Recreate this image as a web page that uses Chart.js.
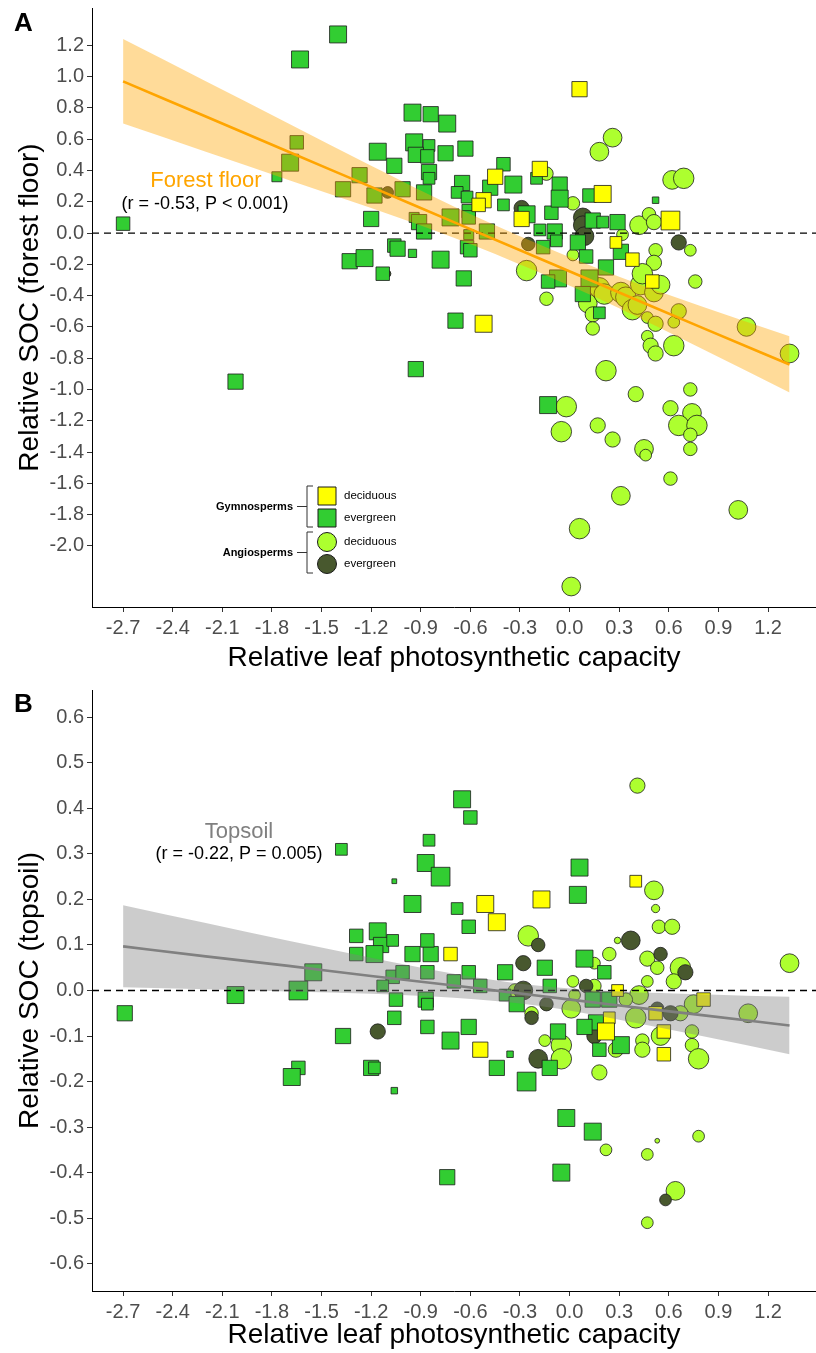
<!DOCTYPE html>
<html>
<head>
<meta charset="utf-8">
<script src="https://cdn.jsdelivr.net/npm/chart.js@4.4.1/dist/chart.umd.min.js"></script>
<style>
  body { margin: 0; background: #fff; }
  #wrapA { position: absolute; left: 0; top: 0; width: 816px; height: 676px; }
  #wrapB { position: absolute; left: 0; top: 676px; width: 816px; height: 677px; }
</style>
</head>
<body>
<div id="wrapA"><canvas id="chartA" width="816" height="676"></canvas></div>
<div id="wrapB"><canvas id="chartB" width="816" height="677"></canvas></div>
<script>
// axis ticks
const xTicks = [-2.7, -2.4, -2.1, -1.8, -1.5, -1.2, -0.9, -0.6, -0.3, 0, 0.3, 0.6, 0.9, 1.2];
const floorTicks = [-2.0, -1.8, -1.6, -1.4, -1.2, -1.0, -0.8, -0.6, -0.4, -0.2, 0, 0.2, 0.4, 0.6, 0.8, 1.0, 1.2];
const topTicks = [-0.6, -0.5, -0.4, -0.3, -0.2, -0.1, 0, 0.1, 0.2, 0.3, 0.4, 0.5, 0.6];

// ---- A: forest floor ----
// gymnosperms, evergreen
const floorGEx = [-2.70,-1.63,-1.40,-1.65,-1.69,-1.77,-2.02,-0.95,-0.84,-0.74,-0.94,-0.85,-0.93,-0.86,-0.75,-0.63,-1.16,-1.06,-0.85,-0.85,
  -0.40,-0.65,-0.48,-0.34,-0.06,-0.20,0.12,0.52,-1.27,-1.37,-1.18,-1.01,-0.88,-0.68,-0.62,-0.61,-0.40,-0.26,-0.11,-0.06,
  -1.20,-0.94,-0.91,-0.88,-0.72,-0.61,-0.50,-0.61,-0.18,-0.09,-0.08,0.14,0.29,0.20,0.31,-1.06,-1.04,-0.95,-1.33,-1.24,
  -1.13,-0.78,-0.64,-0.62,-0.60,-0.16,0.05,0.10,0.22,-0.07,-0.13,0.12,0.08,0.18,-0.69,-0.13,-0.93];
const floorGEy = [0.06,1.11,1.27,0.58,0.45,0.36,-0.95,0.77,0.76,0.70,0.58,0.56,0.50,0.49,0.51,0.54,0.52,0.43,0.39,0.35,
  0.44,0.32,0.29,0.31,0.31,0.35,0.24,0.21,0.37,0.28,0.24,0.28,0.26,0.26,0.23,0.14,0.18,0.12,0.13,0.22,
  0.09,0.10,0.07,0.01,0.10,0.10,0.01,-0.01,0.02,0.01,-0.05,0.08,0.07,0.07,-0.12,-0.08,-0.10,-0.13,-0.18,-0.16,
  -0.26,-0.17,-0.29,-0.09,-0.11,-0.09,-0.06,-0.15,-0.22,-0.29,-0.31,-0.29,-0.39,-0.51,-0.56,-1.10,-0.87];
const floorGEw = [6,8,8,6,8,4,7,8,7,8,8,5,7,6,7,7,8,7,7,5,
  6,7,7,8,7,5,6,2,7,7,7,7,7,5,5,6,5,8,6,8,
  7,4,7,7,8,6,7,4,5,7,5,7,7,5,7,6,7,3,7,8,
  6,8,7,6,6,6,7,6,7,8,6,8,7,5,7,8,7];
// gymnosperms, deciduous
const floorGDx = [0.06,-0.45,-0.18,0.20,-0.52,-0.55,-0.29,0.61,0.28,0.38,0.50,-0.52];
const floorGDy = [0.92,0.36,0.41,0.25,0.21,0.18,0.09,0.08,-0.06,-0.17,-0.31,-0.58];
const floorGDw = [7,7,7,8,7,6,7,9,5,6,6,8];
// angiosperms, evergreen
const floorAEx = [-1.10,-1.10,-0.29,0.08,0.08,0.09,0.66,-0.25];
const floorAEy = [0.26,-0.26,0.16,0.10,0.05,-0.02,-0.06,-0.07];
const floorAEw = [5,2,7,9,9,9,7,6];
// angiosperms, deciduous
const floorADx = [0.26,0.18,0.02,0.42,0.48,0.51,0.32,0.62,0.69,0.73,0.52,0.51,0.02,-0.26,-0.14,0.11,0.14,0.14,0.18,0.21,
  0.31,0.34,0.38,0.41,0.43,0.44,0.51,0.55,0.76,0.47,0.52,0.63,0.66,0.47,0.49,0.52,0.63,1.07,1.33,0.22,
  0.40,0.73,-0.02,-0.05,0.17,0.26,0.45,0.46,0.61,0.74,0.66,0.77,0.73,0.73,0.61,0.31,1.02,0.06,0.01,-0.14];
const floorADy = [0.61,0.52,0.19,0.05,0.12,0.07,-0.01,0.34,0.35,-0.11,-0.11,-0.19,-0.14,-0.24,-0.42,-0.45,-0.52,-0.61,-0.35,-0.39,
  -0.38,-0.41,-0.49,-0.46,-0.33,-0.26,-0.38,-0.33,-0.31,-0.54,-0.58,-0.57,-0.50,-0.66,-0.72,-0.77,-0.72,-0.60,-0.77,-0.88,
  -1.03,-1.00,-1.11,-1.27,-1.23,-1.32,-1.38,-1.42,-1.12,-1.15,-1.23,-1.23,-1.29,-1.38,-1.57,-1.68,-1.77,-1.89,-2.26,0.38];
const floorADw = [9,9,6,9,6,7,5,9,10,5,6,7,5,10,6,9,7,6,10,10,
  10,10,10,9,10,10,9,9,6,5,7,5,7,5,7,7,10,9,9,10,
  7,6,10,10,7,7,9,5,7,9,10,10,6,6,6,9,9,10,9,6];
// fitted line and confidence band
const fitX = [-2.7, -2.2, -1.7, -1.2, -0.7, -0.2, 0.3, 0.8, 1.33];
const floorFit = [0.97, 0.745, 0.52, 0.295, 0.07, -0.155, -0.38, -0.605, -0.84];
const floorHi = [1.24, 0.97, 0.70, 0.43, 0.17, -0.065, -0.28, -0.47, -0.66];
const floorLo = [0.70, 0.52, 0.34, 0.16, -0.03, -0.245, -0.48, -0.74, -1.02];

// ---- B: topsoil ----
const topGEx = [-2.69,-2.02,-1.55,-1.64,-1.64,-1.68,-1.38,-1.29,-1.29,-1.16,-1.14,-1.07,-1.18,-0.95,-1.06,-1.07,-1.01,-1.13,-1.05,-1.06,
  -1.37,-1.20,-1.18,-1.06,-0.65,-0.60,-0.85,-0.87,-0.78,0.06,0.05,-0.68,-0.61,-0.84,-0.95,-0.86,0.09,0.21,-0.15,-0.39,
  -0.61,-0.70,-0.54,-0.86,-0.12,0.14,0.24,-0.87,-0.39,-0.32,-0.86,-0.86,-0.61,-0.72,0.16,0.09,0.18,0.31,-0.07,-0.12,
  -0.36,-0.44,-0.26,-0.02,0.14,-0.74,-0.05];
const topGEy = [-0.05,-0.01,0.04,0.00,-0.17,-0.19,0.31,0.12,0.08,0.13,0.10,0.11,0.08,0.19,0.24,0.03,0.04,0.01,-0.02,-0.06,
  -0.10,-0.17,-0.17,-0.22,0.42,0.38,0.33,0.28,0.25,0.27,0.21,0.18,0.14,0.08,0.08,0.11,0.07,0.04,0.05,0.04,
  0.04,0.02,0.01,0.04,0.01,-0.02,-0.02,-0.02,-0.01,-0.03,-0.03,-0.08,-0.08,-0.11,-0.07,-0.08,-0.13,-0.12,-0.09,-0.17,
  -0.14,-0.17,-0.20,-0.28,-0.31,-0.41,-0.40];
const topGEw = [7,8,8,9,6,8,5,6,6,8,7,5,8,8,1,6,6,5,6,6,
  7,7,5,2,8,6,5,8,9,8,8,5,6,7,7,6,8,6,7,7,
  6,6,6,6,6,7,7,7,5,7,5,6,7,8,7,7,6,8,7,7,
  2,7,9,8,8,7,8];
const topGDx = [0.40,-0.17,-0.51,-0.44,-0.72,0.29,0.81,0.52,0.57,0.57,0.24,0.22,-0.54];
const topGDy = [0.24,0.20,0.19,0.15,0.08,0.00,-0.02,-0.05,-0.09,-0.14,-0.06,-0.09,-0.13];
const topGDw = [5,8,8,8,6,5,6,6,6,6,5,8,7];
const topAEx = [-1.16,-0.19,0.37,-0.28,0.55,-0.28,0.10,-0.14,-0.23,0.53,0.61,0.15,-0.19,0.58,0.70];
const topAEy = [-0.09,0.10,0.11,0.06,0.08,0.00,0.01,-0.03,-0.06,-0.04,-0.05,-0.10,-0.15,-0.46,0.04];
const topAEw = [7,6,9,7,6,9,6,6,6,6,7,7,9,5,7];
const topADx = [0.41,0.51,0.52,0.54,0.62,-0.25,0.29,0.47,0.53,0.67,0.24,0.15,0.02,0.15,0.47,0.63,-0.33,0.03,0.42,0.34,
  0.75,1.08,0.01,-0.23,0.40,0.67,0.74,0.74,0.78,0.44,0.44,0.55,0.28,-0.05,-0.05,-0.15,0.18,0.22,0.47,0.53,
  0.78,0.64,0.47,1.33];
const topADy = [0.45,0.22,0.18,0.14,0.14,0.12,0.11,0.07,0.05,0.05,0.08,0.06,0.02,0.01,0.02,0.02,0.00,-0.01,-0.01,-0.02,
  -0.03,-0.05,-0.04,-0.05,-0.06,-0.05,-0.09,-0.12,-0.15,-0.11,-0.13,-0.10,-0.13,-0.12,-0.15,-0.11,-0.18,-0.35,-0.36,-0.33,
  -0.32,-0.44,-0.51,0.06];
const topADw = [7,9,3,6,7,10,2,7,6,10,6,5,5,6,5,7,6,5,9,6,
  9,9,9,6,10,7,6,6,10,6,7,9,7,10,10,5,7,5,5,1,
  5,9,5,9];
const topFit = [0.097, 0.075, 0.054, 0.032, 0.011, -0.011, -0.033, -0.054, -0.077];
const topHi = [0.187, 0.148, 0.109, 0.072, 0.037, 0.011, -0.002, -0.008, -0.014];
const topLo = [0.007, 0.003, -0.002, -0.007, -0.016, -0.033, -0.064, -0.100, -0.140];

// axis limits
const xMin = -2.888, xMax = 1.49;
const floorMin = -2.391, floorMax = 1.439;
const topMin = -0.66, topMax = 0.66;

const colors = { GD: '#FFFF00', GE: '#32CD32', AD: '#ADFF2F', AE: '#48582E' };
const FONT = "'Liberation Sans', Arial, sans-serif";
Chart.defaults.font.family = FONT;

function markerRadius(w, style) {
  const side = 3 + 1.75 * w;
  return style === 'rect' ? side / Math.SQRT2 : side / 2;
}

function pointSet(xs, ys, ws, color, style) {
  return {
    type: 'scatter',
    data: xs.map((x, i) => ({ x: x, y: ys[i], w: ws[i] })),
    backgroundColor: color,
    borderColor: '#1a1a1a',
    borderWidth: 0.8,
    pointStyle: style,
    pointRadius: ctx => markerRadius(ctx.raw.w, style),
    pointHoverRadius: ctx => markerRadius(ctx.raw.w, style)
  };
}

function lineSet(ys, color, width, fill, bg) {
  return {
    type: 'line',
    data: fitX.map((x, i) => ({ x: x, y: ys[i] })),
    borderColor: color,
    borderWidth: width,
    pointRadius: 0,
    fill: fill,
    backgroundColor: bg,
    cubicInterpolationMode: 'monotone'
  };
}

function zeroSet() {
  return {
    type: 'line',
    data: [{ x: xMin, y: 0 }, { x: xMax, y: 0 }],
    borderColor: '#000',
    borderWidth: 1.3,
    borderDash: [7, 5],
    pointRadius: 0,
    fill: false
  };
}

function scalesFor(yMin, yMax, yTicks, yTitle, canvasH, bottomPx) {
  return {
    x: {
      type: 'linear', min: xMin, max: xMax,
      afterBuildTicks: s => { s.ticks = xTicks.map(v => ({ value: v })); },
      afterFit: s => { s.height = canvasH - bottomPx; s.paddingLeft = 0; s.paddingRight = 0; },
      ticks: { callback: v => v.toFixed(1), color: '#4d4d4d', font: { size: 20 }, padding: 4, autoSkip: false, maxRotation: 0 },
      grid: { display: true, drawOnChartArea: false, drawTicks: true, tickLength: 5, color: '#333' },
      border: { display: true, color: '#000', width: 1 },
      title: { display: true, text: 'Relative leaf photosynthetic capacity', color: '#000', font: { size: 28 }, padding: { top: 0, bottom: 1 } }
    },
    y: {
      type: 'linear', min: yMin, max: yMax,
      afterBuildTicks: s => { s.ticks = yTicks.map(v => ({ value: v })); },
      afterFit: s => { s.width = 92; s.paddingTop = 0; s.paddingBottom = 0; },
      ticks: { callback: v => v.toFixed(1), color: '#4d4d4d', font: { size: 20 }, padding: 3 },
      grid: { display: true, drawOnChartArea: false, drawTicks: true, tickLength: 5, color: '#333' },
      border: { display: true, color: '#000', width: 1 },
      title: { display: true, text: yTitle, color: '#000', font: { size: 28 }, padding: { top: 13, bottom: 0 } }
    }
  };
}

// texts and inset legend
const floorText = {
  id: 'floorText',
  afterDraw(chart) {
    const ctx = chart.ctx;
    ctx.save();
    ctx.fillStyle = '#000';
    ctx.font = 'bold 26px ' + FONT;
    ctx.textAlign = 'left';
    ctx.fillText('A', 14, 31);
    ctx.textAlign = 'center';
    ctx.fillStyle = '#FFA500';
    ctx.font = '22px ' + FONT;
    ctx.fillText('Forest floor', 206, 187);
    ctx.fillStyle = '#000';
    ctx.font = '18px ' + FONT;
    ctx.fillText('(r = -0.53, P < 0.001)', 205, 209);

    // legend
    const mx = 327;
    const rows = [
      { y: 496, c: colors.GD, s: 'rect', t: 'deciduous' },
      { y: 518, c: colors.GE, s: 'rect', t: 'evergreen' },
      { y: 542, c: colors.AD, s: 'circle', t: 'deciduous' },
      { y: 564, c: colors.AE, s: 'circle', t: 'evergreen' }
    ];
    ctx.lineWidth = 1;
    ctx.strokeStyle = '#1a1a1a';
    rows.forEach(r => {
      ctx.fillStyle = r.c;
      ctx.beginPath();
      if (r.s === 'rect') ctx.rect(mx - 9, r.y - 9, 18, 18);
      else ctx.arc(mx, r.y, 9.5, 0, Math.PI * 2);
      ctx.fill();
      ctx.stroke();
      ctx.fillStyle = '#000';
      ctx.font = '11.5px ' + FONT;
      ctx.textAlign = 'left';
      ctx.textBaseline = 'middle';
      ctx.fillText(r.t, 344, r.y);
    });
    ctx.font = 'bold 11px ' + FONT;
    ctx.textAlign = 'right';
    ctx.fillText('Gymnosperms', 293, 507);
    ctx.fillText('Angiosperms', 293, 553);
    ctx.strokeStyle = '#333';
    ctx.lineWidth = 1;
    [[486, 527], [532, 573]].forEach(b => {
      const mid = (b[0] + b[1]) / 2;
      ctx.beginPath();
      ctx.moveTo(313, b[0]); ctx.lineTo(307, b[0]); ctx.lineTo(307, b[1]); ctx.lineTo(313, b[1]);
      ctx.moveTo(307, mid); ctx.lineTo(297, mid);
      ctx.stroke();
    });
    ctx.restore();
  }
};

const topText = {
  id: 'topText',
  afterDraw(chart) {
    const ctx = chart.ctx;
    ctx.save();
    ctx.fillStyle = '#000';
    ctx.font = 'bold 26px ' + FONT;
    ctx.textAlign = 'left';
    ctx.fillText('B', 14, 36);
    ctx.textAlign = 'center';
    ctx.fillStyle = '#808080';
    ctx.font = '22px ' + FONT;
    ctx.fillText('Topsoil', 239, 162);
    ctx.fillStyle = '#000';
    ctx.font = '18px ' + FONT;
    ctx.fillText('(r = -0.22, P = 0.005)', 239, 183);
    ctx.restore();
  }
};

const common = {
  responsive: false,
  animation: false,
  events: [],
  plugins: { legend: { display: false }, tooltip: { enabled: false } }
};

new Chart(document.getElementById('chartA').getContext('2d'), {
  type: 'scatter',
  data: {
    datasets: [
      lineSet(floorFit, '#FFA500', 2.6, false, 'transparent'),
      lineSet(floorHi, 'transparent', 0, '+1', 'rgba(255,165,0,0.4)'),
      lineSet(floorLo, 'transparent', 0, false, 'transparent'),
      zeroSet(),
      pointSet(floorGDx, floorGDy, floorGDw, colors.GD, 'rect'),
      pointSet(floorGEx, floorGEy, floorGEw, colors.GE, 'rect'),
      pointSet(floorAEx, floorAEy, floorAEw, colors.AE, 'circle'),
      pointSet(floorADx, floorADy, floorADw, colors.AD, 'circle')
    ]
  },
  options: Object.assign({}, common, {
    layout: { autoPadding: false, padding: { top: 8, right: 0, left: 0, bottom: 0 } },
    scales: scalesFor(floorMin, floorMax, floorTicks, 'Relative SOC (forest floor)', 676, 607)
  }),
  plugins: [floorText]
});

new Chart(document.getElementById('chartB').getContext('2d'), {
  type: 'scatter',
  data: {
    datasets: [
      lineSet(topFit, '#808080', 2.6, false, 'transparent'),
      lineSet(topHi, 'transparent', 0, '+1', 'rgba(128,128,128,0.4)'),
      lineSet(topLo, 'transparent', 0, false, 'transparent'),
      zeroSet(),
      pointSet(topGDx, topGDy, topGDw, colors.GD, 'rect'),
      pointSet(topGEx, topGEy, topGEw, colors.GE, 'rect'),
      pointSet(topAEx, topAEy, topAEw, colors.AE, 'circle'),
      pointSet(topADx, topADy, topADw, colors.AD, 'circle')
    ]
  },
  options: Object.assign({}, common, {
    layout: { autoPadding: false, padding: { top: 14, right: 0, left: 0, bottom: 0 } },
    scales: scalesFor(topMin, topMax, topTicks, 'Relative SOC (topsoil)', 677, 615)
  }),
  plugins: [topText]
});
</script>
</body>
</html>
